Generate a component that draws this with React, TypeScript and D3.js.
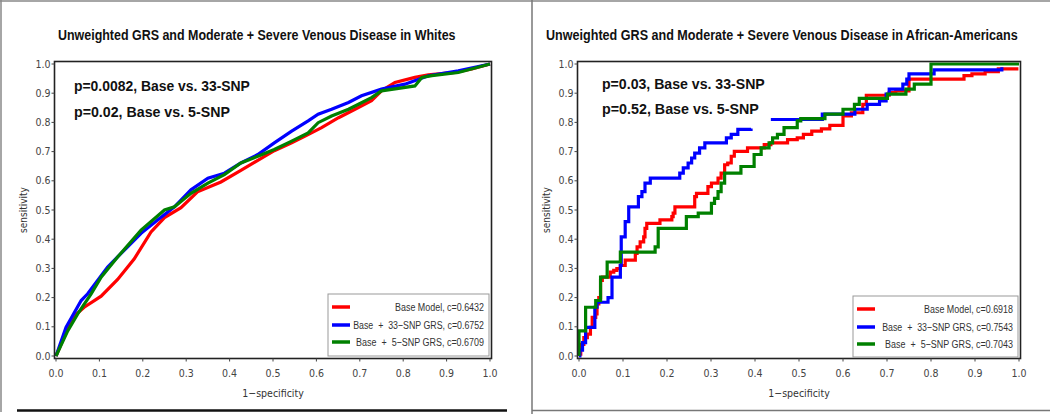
import React, { useLayoutEffect, useRef, useState } from 'react';
import * as d3 from 'd3';

type Pt = [number, number] | null;

const axisTicks = [0, 0.1, 0.2, 0.3, 0.4, 0.5, 0.6, 0.7, 0.8, 0.9, 1.0];
const tickLabels = ['0.0', '0.1', '0.2', '0.3', '0.4', '0.5', '0.6', '0.7', '0.8', '0.9', '1.0'];

const titles = [
  'Unweighted GRS and Moderate + Severe Venous Disease in Whites',
  'Unweighted GRS and Moderate + Severe Venous Disease in African-Americans',
];
const pTextsWhites = ['p=0.0082, Base vs. 33-SNP', 'p=0.02, Base vs. 5-SNP'];
const pTextsAA = ['p=0.03, Base vs. 33-SNP', 'p=0.52, Base vs. 5-SNP'];
const legendWhites = ['Base Model, c=0.6432', 'Base  +  33\u2212SNP GRS, c=0.6752', 'Base  +  5\u2212SNP GRS, c=0.6709'];
const legendAA = ['Base Model, c=0.6918', 'Base  +  33\u2212SNP GRS, c=0.7543', 'Base  +  5\u2212SNP GRS, c=0.7043'];

// Whites (fpr, tpr)
const whitesBase: Pt[] = [
  [0, 0], [0.038, 0.132], [0.065, 0.167], [0.104, 0.205], [0.142, 0.262], [0.18, 0.332], [0.219, 0.425],
  [0.25, 0.474], [0.288, 0.508], [0.326, 0.562], [0.38, 0.596], [0.426, 0.636], [0.465, 0.67], [0.503, 0.703],
  [0.543, 0.73], [0.574, 0.753], [0.612, 0.782], [0.651, 0.816], [0.689, 0.845], [0.727, 0.874], [0.75, 0.908],
  [0.781, 0.937], [0.827, 0.954], [0.858, 0.963], [0.919, 0.971], [0.958, 0.983], [1, 1],
];
const whites33: Pt[] = [
  [0, 0], [0.023, 0.098], [0.058, 0.19], [0.073, 0.213], [0.119, 0.305], [0.157, 0.362], [0.196, 0.42],
  [0.234, 0.466], [0.273, 0.511], [0.311, 0.569], [0.35, 0.609], [0.388, 0.626], [0.426, 0.661], [0.465, 0.69],
  [0.503, 0.73], [0.543, 0.77], [0.581, 0.805], [0.604, 0.828], [0.635, 0.845], [0.674, 0.868], [0.704, 0.891],
  [0.75, 0.914], [0.804, 0.931], [0.858, 0.96], [0.927, 0.977], [1, 1],
];
const whites5: Pt[] = [
  [0, 0], [0.027, 0.086], [0.05, 0.144], [0.081, 0.213], [0.104, 0.27], [0.142, 0.339], [0.196, 0.431],
  [0.25, 0.5], [0.273, 0.511], [0.311, 0.557], [0.35, 0.592], [0.388, 0.621], [0.426, 0.661], [0.465, 0.684],
  [0.503, 0.707], [0.543, 0.736], [0.581, 0.764], [0.604, 0.799], [0.635, 0.822], [0.674, 0.845], [0.697, 0.862],
  [0.727, 0.885], [0.75, 0.908], [0.827, 0.925], [0.843, 0.954], [0.866, 0.96], [0.927, 0.971], [1, 1],
];

// African-Americans (fpr, tpr), step curves
const aaBase: Pt[] = [
  [0, 0], [0, 0.006], [0.004, 0.04], [0.011, 0.063], [0.019, 0.075], [0.026, 0.098], [0.03, 0.132], [0.038, 0.144],
  [0.041, 0.178], [0.045, 0.2], [0.049, 0.259], [0.053, 0.27], [0.071, 0.287], [0.079, 0.293], [0.086, 0.299],
  [0.094, 0.31], [0.105, 0.328], [0.128, 0.351], [0.132, 0.374], [0.139, 0.391], [0.147, 0.408], [0.15, 0.437],
  [0.154, 0.454], [0.184, 0.466], [0.211, 0.477], [0.214, 0.489], [0.218, 0.511], [0.263, 0.546], [0.267, 0.557],
  [0.293, 0.58], [0.301, 0.592], [0.316, 0.609], [0.323, 0.626], [0.331, 0.655], [0.338, 0.661], [0.346, 0.684],
  [0.353, 0.701], [0.383, 0.713], [0.421, 0.724], [0.436, 0.73], [0.474, 0.741], [0.496, 0.747], [0.51, 0.759],
  [0.529, 0.77], [0.551, 0.778], [0.57, 0.79], [0.6, 0.805], [0.6, 0.822], [0.619, 0.833], [0.645, 0.862],
  [0.653, 0.893], [0.705, 0.902], [0.72, 0.908], [0.75, 0.948], [0.875, 0.96], [0.893, 0.966], [0.923, 0.974],
  [0.953, 0.983], [0.995, 0.989],
];
const aa33Lower: Pt[] = [
  [0, 0], [0.002, 0.02], [0.008, 0.046], [0.015, 0.098], [0.036, 0.167], [0.041, 0.184], [0.066, 0.2],
  [0.075, 0.27], [0.094, 0.31], [0.096, 0.408], [0.105, 0.46], [0.113, 0.511], [0.135, 0.546], [0.143, 0.563],
  [0.15, 0.592], [0.162, 0.609], [0.229, 0.626], [0.237, 0.644], [0.248, 0.661], [0.256, 0.678], [0.263, 0.695],
  [0.274, 0.713], [0.286, 0.73], [0.335, 0.747], [0.346, 0.759], [0.361, 0.776], [0.391, 0.779],
];
const aa33Upper: Pt[] = [
  [0.436, 0.81], [0.553, 0.828], [0.627, 0.845], [0.655, 0.862], [0.683, 0.874], [0.698, 0.897], [0.705, 0.914],
  [0.736, 0.931], [0.745, 0.948], [0.75, 0.966], [0.807, 0.98], [0.961, 0.989],
];
const aa5: Pt[] = [
  [0, 0], [0, 0.086], [0.015, 0.167], [0.038, 0.19], [0.049, 0.27], [0.064, 0.322], [0.094, 0.356], [0.173, 0.374],
  [0.18, 0.437], [0.244, 0.477], [0.271, 0.489], [0.301, 0.523], [0.308, 0.54], [0.316, 0.563], [0.323, 0.592],
  [0.331, 0.626], [0.368, 0.649], [0.398, 0.69], [0.414, 0.713], [0.432, 0.73], [0.44, 0.747], [0.451, 0.759],
  [0.466, 0.782], [0.496, 0.805], [0.504, 0.813], [0.559, 0.828], [0.6, 0.845], [0.626, 0.862], [0.637, 0.882],
  [0.701, 0.897], [0.743, 0.914], [0.762, 0.931], [0.8, 1.0], [1.0, 1.0],
];

const colors = ['#ff0000', '#0000ff', '#008000'];
const narrow = "'Liberation Sans Narrow', 'Arial Narrow', 'DejaVu Sans Condensed', sans-serif";
const sans = "'Liberation Sans', Arial, sans-serif";

function FitText(props: {
  x: number; y: number; width: number; anchor?: 'start' | 'end' | 'middle';
  fontFamily: string; fontSize: number; fontWeight?: string; fill: string; dy?: string; children: string;
}) {
  const ref = useRef<SVGTextElement>(null);
  const [s, setS] = useState(1);
  useLayoutEffect(() => {
    if (ref.current) {
      const w = ref.current.getComputedTextLength();
      if (w > 0) setS(props.width / w);
    }
  }, [props.width, props.children]);
  return (
    <text ref={ref} transform={`translate(${props.x},${props.y}) scale(${s},1)`} textAnchor={props.anchor || 'start'}
      fontFamily={props.fontFamily} fontSize={props.fontSize} fontWeight={props.fontWeight} fill={props.fill}
      dy={props.dy} style={{ whiteSpace: 'pre' }}>{props.children}</text>
  );
}

interface PanelProps {
  xr: [number, number];
  yr: [number, number];
  title: string;
  titleX: number;
  titleW: number;
  pTexts: string[];
  pX: number;
  pY: number[];
  pW: number[];
  legend: string[];
  legendW: number[];
  legendBox: [number, number, number, number];
  series: Pt[][];
  step: boolean;
  yLabelX: number;
}

function Panel(p: PanelProps) {
  const x = d3.scaleLinear().domain([0, 1]).range(p.xr);
  const y = d3.scaleLinear().domain([0, 1]).range(p.yr);
  const fl = p.xr[0] - 1.5, fr = p.xr[1] + 1.5, ft = p.yr[1] - 2.5, fb = p.yr[0] + 2.5;
  const line = d3
    .line<Pt>()
    .defined((d) => d != null)
    .x((d) => x((d as [number, number])[0]))
    .y((d) => y((d as [number, number])[1]))
    .curve(p.step ? d3.curveStepAfter : d3.curveLinear);
  const [lx, ly, lw, lh] = p.legendBox;
  const rowY = [13, 31, 48];
  return (
    <g>
      <FitText x={p.titleX} y={40} width={p.titleW} fontFamily={sans} fontWeight="bold" fontSize={15.5} fill="#111">{p.title}</FitText>
      {p.series.map((s, i) => (
        <path key={i} d={line(s) || ''} fill="none" stroke={colors[i]} strokeWidth={3.2} strokeLinejoin="miter" />
      ))}
      <rect x={fl} y={ft} width={fr - fl} height={fb - ft} fill="none" stroke="#222" strokeWidth={1.6} />
      {p.pTexts.map((t, i) => (
        <FitText key={i} x={p.pX} y={p.pY[i]} width={p.pW[i]} fontFamily={sans} fontWeight="bold" fontSize={14.5} fill="#111">{t}</FitText>
      ))}
      {axisTicks.map((t, i) => (
        <g key={'y' + i}>
          <line x1={fl - 3} x2={fl} y1={y(t)} y2={y(t)} stroke="#444" strokeWidth={1} />
          <text x={fl - 4} y={y(t)} dy="0.35em" textAnchor="end" fontFamily={narrow} fontSize={10.5} fill="#444">{tickLabels[i]}</text>
        </g>
      ))}
      {axisTicks.map((t, i) => (
        <g key={'x' + i}>
          <line x1={x(t)} x2={x(t)} y1={fb} y2={fb + 3} stroke="#444" strokeWidth={1} />
          <text x={x(t)} y={fb + 18} textAnchor="middle" fontFamily={narrow} fontSize={10.5} fill="#444">{tickLabels[i]}</text>
        </g>
      ))}
      <text x={(p.xr[0] + p.xr[1]) / 2} y={fb + 38} textAnchor="middle" fontFamily={narrow} fontSize={10.5} fill="#333">1{'\u2212'}specificity</text>
      <text transform={`translate(${p.yLabelX},${(p.yr[0] + p.yr[1]) / 2}) rotate(-90)`} textAnchor="middle"
        fontFamily={narrow} fontSize={10} fill="#333">sensitivity</text>
      <rect x={lx} y={ly} width={lw} height={lh} fill="#fff" stroke="#999" strokeWidth={1} />
      {p.legend.map((t, i) => (
        <g key={'l' + i}>
          <line x1={lx + 4} x2={lx + 22} y1={ly + rowY[i]} y2={ly + rowY[i]} stroke={colors[i]} strokeWidth={3.5} />
          <FitText x={lx + lw - 5} y={ly + rowY[i]} width={p.legendW[i]} anchor="end" dy="0.35em"
            fontFamily={sans} fontSize={11.5} fill="#333">{t}</FitText>
        </g>
      ))}
    </g>
  );
}

export default function App() {
  return (
    <svg width={1050} height={414} style={{ position: 'absolute', left: 0, top: 0, background: '#fff' }}>
      <rect x={0} y={0} width={1050} height={414} fill="#fff" />
      <line x1={0} x2={1050} y1={1} y2={1} stroke="#888" strokeWidth={1.5} />
      <line x1={1} x2={1} y1={0} y2={412} stroke="#888" strokeWidth={1.5} />
      <line x1={532} x2={532} y1={0} y2={414} stroke="#777" strokeWidth={1.5} />
      <line x1={17} x2={507} y1={410.5} y2={410.5} stroke="#111" strokeWidth={2.5} />
      <line x1={532} x2={1050} y1={410.5} y2={410.5} stroke="#777" strokeWidth={1.5} />
      <Panel
        xr={[56, 490]} yr={[356, 64]}
        title={titles[0]} titleX={58} titleW={398}
        pTexts={pTextsWhites} pX={74} pY={[91, 117]} pW={[176, 156]}
        legend={legendWhites} legendW={[89, 131, 128]} legendBox={[328, 294, 161, 62]}
        series={[whitesBase, whites33, whites5]} step={false} yLabelX={27}
      />
      <Panel
        xr={[579, 1019]} yr={[356, 64]}
        title={titles[1]} titleX={546} titleW={472}
        pTexts={pTextsAA} pX={602} pY={[89, 114]} pW={[163, 157]}
        legend={legendAA} legendW={[89, 131, 128]} legendBox={[853, 296, 165, 61]}
        series={[aaBase, [...aa33Lower, null, ...aa33Upper], aa5]} step={true} yLabelX={550}
      />
    </svg>
  );
}
